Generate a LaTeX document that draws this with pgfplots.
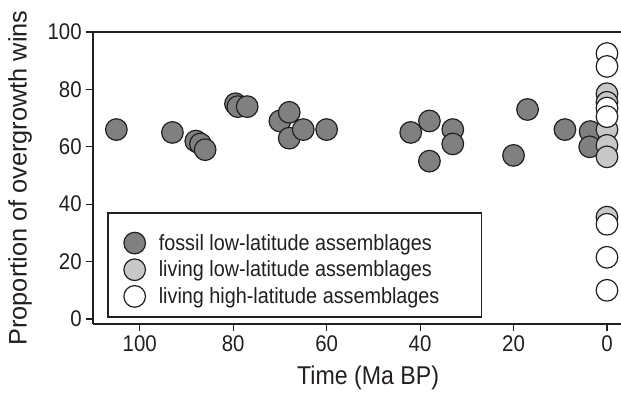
\documentclass[border=0pt]{standalone}
\usepackage{fontspec}
\setmainfont{Liberation Sans}[FakeStretch=0.9]
\newfontfamily\ylabfont{Liberation Sans}
\usepackage{pgfplots}
\pgfplotsset{compat=1.18}
\definecolor{edgec}{RGB}{35,31,32}
\definecolor{darkf}{RGB}{128,128,128}
\definecolor{lightf}{RGB}{200,200,200}

\begin{document}
\begin{tikzpicture}
\begin{axis}[
  scale only axis, width=396pt, height=219pt,
  x dir=reverse, xmin=-3, xmax=110, ymin=-1.74, ymax=100,
  axis x line*=box, axis y line*=left,
  xtick={0,20,...,100}, ytick={0,20,...,100},
  xtick pos=left, ytick pos=left,
  tick align=outside, major tick length=5pt,
  axis line style={edgec, line width=0.8pt},
  tick style={edgec, line width=0.8pt},
  every tick label/.append style={font=\fontsize{17}{20}\selectfont, text=edgec},
  /pgf/number format/assume math mode=true,
  xlabel={Time (Ma BP)},
  ylabel={Proportion of overgrowth wins},
  every axis x label/.style={at={(axis description cs:0.521,-0.185)}, anchor=center, font=\fontsize{19.3}{22}\selectfont, text=edgec},
  every axis y label/.style={at={(axis description cs:-0.138,0.5)}, rotate=90, anchor=center, font=\ylabfont\fontsize{19}{22}\selectfont, text=edgec},
  clip=false,
  legend style={at={(axis description cs:0.058,0.315)}, anchor=north west, draw=none, fill=none,
    inner sep=0pt, row sep=3.8pt, nodes={inner sep=0pt},
    font=\fontsize{16.5}{19}\selectfont, text=edgec,
    /tikz/every odd column/.append style={column sep=10pt}},
  legend cell align=left,
]
\addplot[only marks, mark=*, mark size=8.1pt, mark options={fill=darkf, draw=edgec, line width=0.9pt}]
coordinates {(105,66)(93,65)(88,62)(87,61)(86,59)(79.5,75)(79,74)(77,74)(70,69)(68,72)(68,63)(65,66)(60,66)(42,65)(38,69)(38,55)(33,66)(33,61)(20,57)(17,73)(9,66)(3.6,65.3)(3.7,60)};
\addlegendentry{fossil low-latitude assemblages}
\addplot[only marks, mark=*, mark size=8.1pt, mark options={fill=lightf, draw=edgec, line width=0.9pt}]
coordinates {(0,78.5)(0,75.5)(0,66)(0,60.5)(0,56.5)(0,35.5)};
\addlegendentry{living low-latitude assemblages}
\addplot[only marks, mark=*, mark size=8.1pt, mark options={fill=white, draw=edgec, line width=0.9pt}]
coordinates {(0,92.5)(0,88)(0,73.5)(0,70.5)(0,33)(0,21.5)(0,10)};
\addlegendentry{living high-latitude assemblages}
\draw[edgec, line width=0.8pt] (axis description cs:0.0284,0.380) rectangle (axis description cs:0.735,0.024);
\coordinate (bl) at (axis description cs:0,0);
\coordinate (tr) at (axis description cs:1,1);
\end{axis}
\pgfresetboundingbox
\path ([shift={(-69.75pt,-52.5pt)}]bl) rectangle ([shift={(0pt,24pt)}]tr);
\end{tikzpicture}
\end{document}
